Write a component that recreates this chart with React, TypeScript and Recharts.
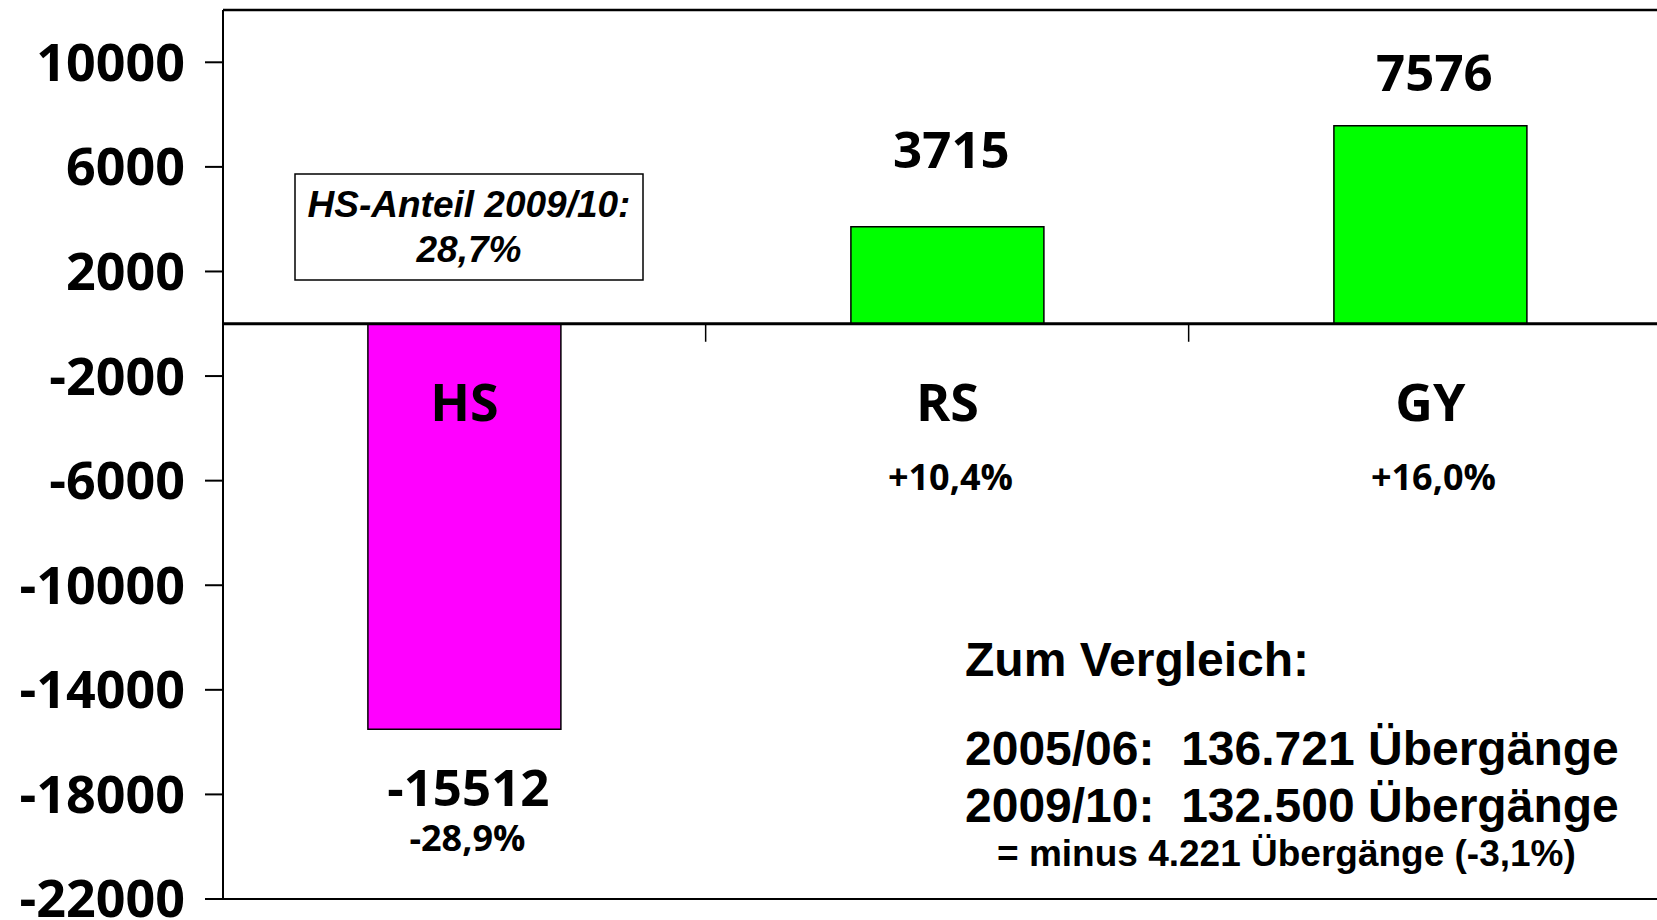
import React from 'react';
import { BarChart, Bar, XAxis, YAxis, ReferenceLine, LabelList, Cell } from 'recharts';

// Veränderung der Übergänge 2005/06 -> 2009/10 nach Schulart
const CATEGORIES = ['HS', 'RS', 'GY'];
const CHANGE = [-15512, 3715, 7576];
const PCT_CHANGE = ['-28,9%', '+10,4%', '+16,0%'];

const Y_TICKS = [-22000, -18000, -14000, -10000, -6000, -2000, 2000, 6000, 10000];
const Y_DOMAIN = [-22000, 12000];

const HS_SHARE = ['HS-Anteil 2009/10:', '28,7%'];
const COMPARE_TITLE = 'Zum Vergleich:';
const COMPARE_LINES = ['2005/06:  136.721 Übergänge', '2009/10:  132.500 Übergänge'];
const COMPARE_DIFF = '= minus 4.221 Übergänge (-3,1%)';

const data = CATEGORIES.map((name, i) => ({ name, value: CHANGE[i], pct: PCT_CHANGE[i] }));

const W = 1680;
const H = 920;
const BAR_GAP = 0.3;
const NUM_FONT = "'Open Sans', 'Noto Sans', sans-serif";
const ARIAL = "'Liberation Sans', Arial, sans-serif";

// distance from bar end to centre of the value label (hand placed in the original)
const VALUE_GAP = [58, 77, 53];

const colorFor = (v: number) => (v < 0 ? '#ff00ff' : '#00ff00');

const BarAnnotations = (props: any) => {
  const vb = props.viewBox && props.viewBox.width != null ? props.viewBox : props;
  const { x, y, width, height } = vb;
  const index: number = props.index;
  const value = CHANGE[index];
  const top = Math.min(y, y + height);
  const bottom = Math.max(y, y + height);
  const cx = x + width / 2;
  const zero = value >= 0 ? bottom : top;
  const band = width / (1 - 2 * BAR_GAP);
  const cap = 0.36;

  const valueCenter = value >= 0 ? top - VALUE_GAP[index] : bottom + VALUE_GAP[index];
  const catCenter = zero + 79;
  const pctCenter = value >= 0 ? zero + 153 : valueCenter + 51;

  return (
    <g>
      <text x={cx + 4} y={valueCenter + 51 * cap} textAnchor="middle" fontSize={51} fontWeight={700} fontFamily={NUM_FONT} fill="#000">
        {value}
      </text>
      <text x={cx} y={catCenter + 52 * cap} textAnchor="middle" fontSize={52} fontWeight={700} fontFamily={NUM_FONT} fill="#000">
        {CATEGORIES[index]}
      </text>
      <text x={cx + 3} y={pctCenter + 36 * cap} textAnchor="middle" fontSize={36} fontWeight={700} fontFamily={NUM_FONT} fill="#000">
        {PCT_CHANGE[index]}
      </text>
      {index < CATEGORIES.length - 1 && (
        <line x1={cx + band / 2} x2={cx + band / 2} y1={zero} y2={zero + 18} stroke="#000" strokeWidth={1.5} />
      )}
    </g>
  );
};

export default function App() {
  return (
    <div style={{ position: 'fixed', left: 0, top: 0, width: 1657, height: 920, overflow: 'hidden', background: '#fff' }}>
      <BarChart width={W} height={H} data={data} margin={{ top: 10, right: 8, bottom: 21, left: 0 }} barCategoryGap={`${BAR_GAP * 100}%`}>
        <XAxis dataKey="name" hide />
        <YAxis
          type="number"
          domain={Y_DOMAIN}
          ticks={Y_TICKS}
          interval={0}
          width={223}
          allowDataOverflow
          axisLine={{ stroke: '#000', strokeWidth: 2 }}
          tickLine={{ stroke: '#000', strokeWidth: 2 }}
          tickSize={18}
          tickMargin={20}
          tick={{ fill: '#000', fontSize: 52, fontWeight: 700, fontFamily: NUM_FONT }}
        />
        <ReferenceLine y={12000} stroke="#000" strokeWidth={2.5} />
        <ReferenceLine y={-22000} stroke="#000" strokeWidth={2} />
        <Bar dataKey="value" stroke="#000" strokeWidth={1.5} isAnimationActive={false}>
          {data.map((d, i) => (
            <Cell key={`c-${i}`} fill={colorFor(d.value)} />
          ))}
          <LabelList dataKey="value" content={BarAnnotations} />
        </Bar>
        <ReferenceLine y={0} stroke="#000" strokeWidth={3} />
      </BarChart>

      {/* free-standing notes from the original slide */}
      <svg width={1657} height={920} style={{ position: 'absolute', left: 0, top: 0, pointerEvents: 'none' }}>
        <rect x={295} y={174} width={348} height={106} fill="#fff" stroke="#000" strokeWidth={1.5} />
        <text x={469} y={217} textAnchor="middle" fontSize={37} fontWeight={700} fontStyle="italic" fontFamily={ARIAL}>
          {HS_SHARE[0]}
        </text>
        <text x={469} y={262} textAnchor="middle" fontSize={37} fontWeight={700} fontStyle="italic" fontFamily={ARIAL}>
          {HS_SHARE[1]}
        </text>

        <text x={965} y={676} fontSize={48} fontWeight={700} fontFamily={ARIAL}>
          {COMPARE_TITLE}
        </text>
        {COMPARE_LINES.map((t, i) => (
          <text key={t} x={965} y={765 + i * 57} fontSize={48} fontWeight={700} fontFamily={ARIAL} style={{ whiteSpace: 'pre' }}>
            {t}
          </text>
        ))}
        <text x={997} y={866} fontSize={37} fontWeight={700} fontFamily={ARIAL}>
          {COMPARE_DIFF}
        </text>
      </svg>
    </div>
  );
}
